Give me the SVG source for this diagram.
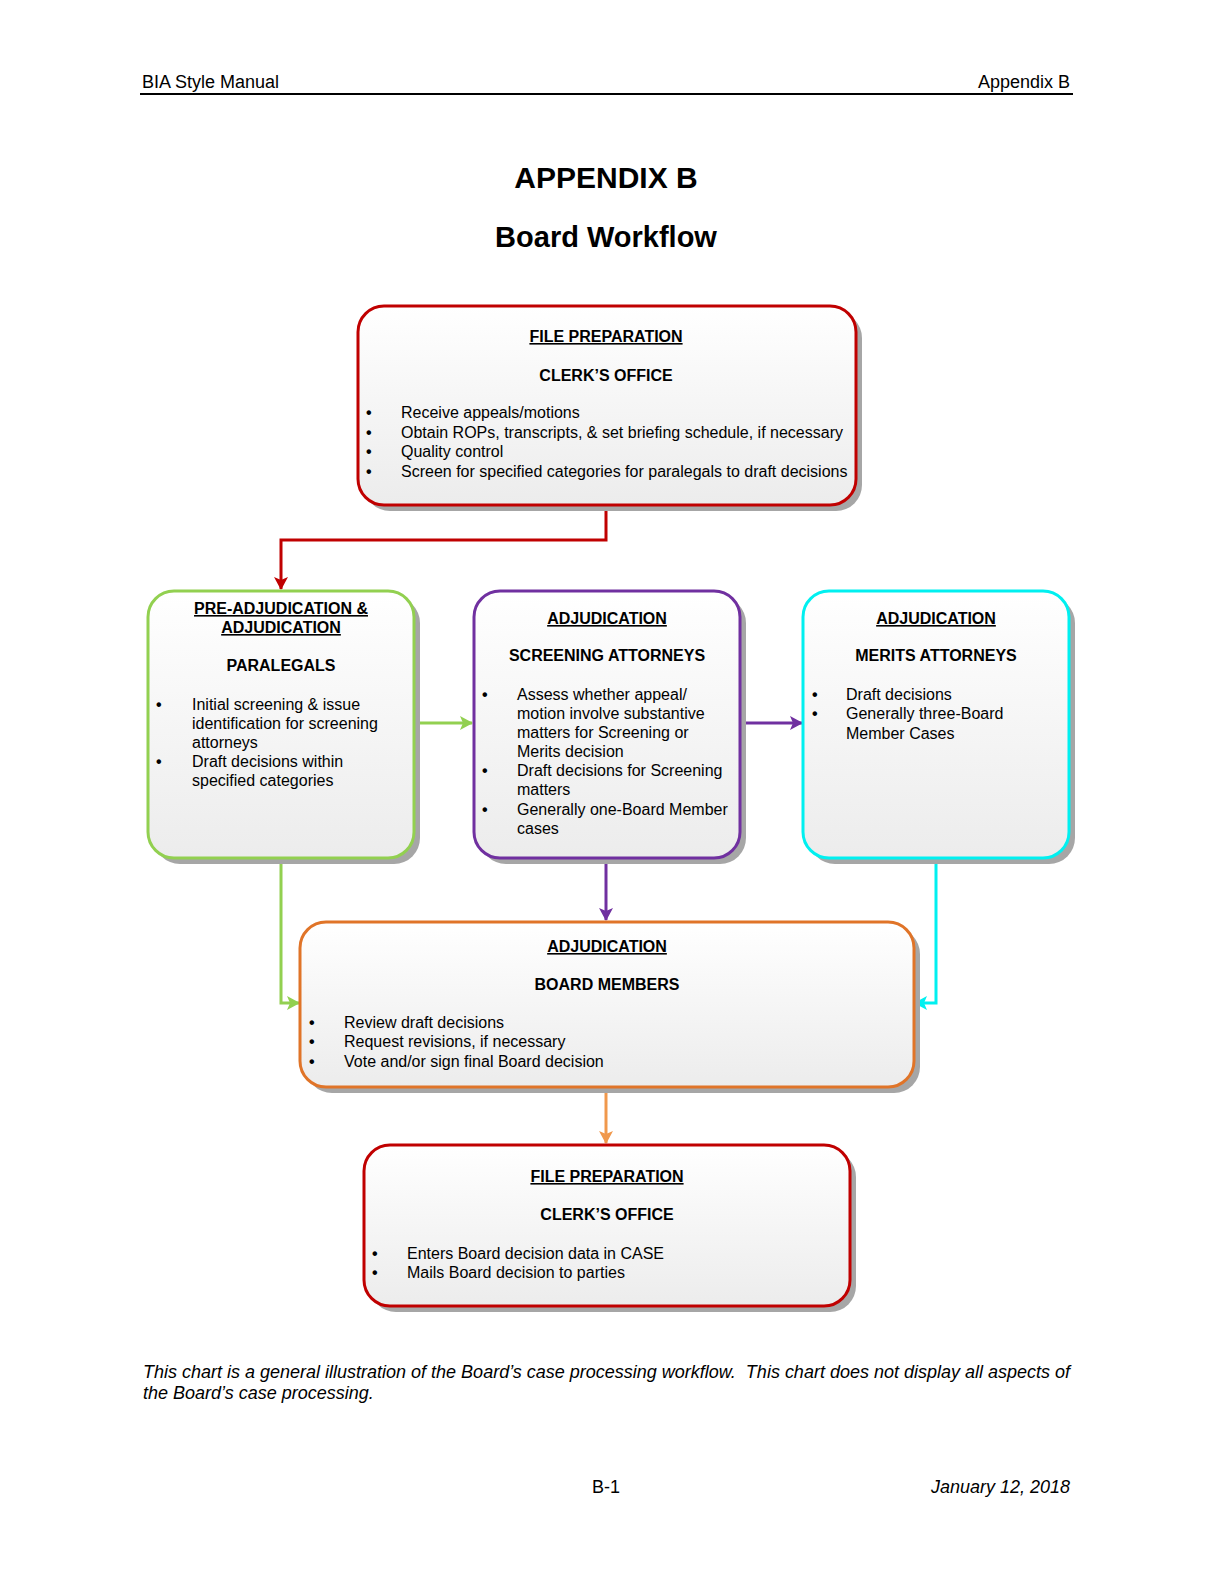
<svg xmlns="http://www.w3.org/2000/svg" width="1224" height="1584" viewBox="0 0 1224 1584">
<style>
text{font-family:"Liberation Sans",Arial,sans-serif;fill:#000}
.hdr{font-size:18px}
.t1{font-size:30px;font-weight:bold}
.t2{font-size:29px;font-weight:bold}
.h{font-size:16px;font-weight:bold;text-decoration:underline}
.s{font-size:16px;font-weight:bold}
.b{font-size:16px}
.d{font-size:16px;font-weight:bold}
.it{font-size:18px;font-style:italic}
.box{fill:url(#g)}
.sh{fill:#a6a6a6}
.con{fill:none;stroke-width:3}
</style>
<defs>
<linearGradient id="g" x1="0" y1="0" x2="0" y2="1">
<stop offset="0" stop-color="#ffffff"/>
<stop offset="1" stop-color="#ececec"/>
</linearGradient>
<marker id="aR" markerUnits="userSpaceOnUse" markerWidth="14" markerHeight="14" refX="12" refY="7" orient="auto"><path d="M0,0 L13,7 L0,14 L3,7 Z" fill="#C00000"/></marker>
<marker id="aG" markerUnits="userSpaceOnUse" markerWidth="14" markerHeight="14" refX="12" refY="7" orient="auto"><path d="M0,0 L13,7 L0,14 L3,7 Z" fill="#92D050"/></marker>
<marker id="aP" markerUnits="userSpaceOnUse" markerWidth="14" markerHeight="14" refX="12" refY="7" orient="auto"><path d="M0,0 L13,7 L0,14 L3,7 Z" fill="#7030A0"/></marker>
<marker id="aC" markerUnits="userSpaceOnUse" markerWidth="14" markerHeight="14" refX="12" refY="7" orient="auto"><path d="M0,0 L13,7 L0,14 L3,7 Z" fill="#00F0F0"/></marker>
<marker id="aO" markerUnits="userSpaceOnUse" markerWidth="14" markerHeight="14" refX="12" refY="7" orient="auto"><path d="M0,0 L13,7 L0,14 L3,7 Z" fill="#F0984C"/></marker>
</defs>
<rect width="1224" height="1584" fill="#fff"/>

<g id="header">
<text class="hdr" x="142" y="88">BIA Style Manual</text>
<text class="hdr" x="1070" y="88" text-anchor="end">Appendix B</text>
<line x1="140" y1="94" x2="1073" y2="94" stroke="#000" stroke-width="2"/>
</g>
<g id="title">
<text class="t1" x="606" y="188" text-anchor="middle">APPENDIX B</text>
<text class="t2" x="606" y="247" text-anchor="middle">Board Workflow</text>
</g>

<g id="connectors">
<path class="con" stroke="#C00000" d="M606,505 V540 H281 V589" marker-end="url(#aR)"/>
<path class="con" stroke="#92D050" d="M414,723 H472" marker-end="url(#aG)"/>
<path class="con" stroke="#7030A0" d="M740,723 H802" marker-end="url(#aP)"/>
<path class="con" stroke="#7030A0" d="M606,858 V920" marker-end="url(#aP)"/>
<path class="con" stroke="#92D050" d="M281,858 V1003 H299" marker-end="url(#aG)"/>
<path class="con" stroke="#00F0F0" d="M936,858 V1003 H915" marker-end="url(#aC)"/>
<path class="con" stroke="#F0984C" d="M606,1087 V1143" marker-end="url(#aO)"/>
</g>

<g id="file-prep-top">
<rect class="sh" x="364" y="312" width="498" height="199" rx="26"/>
<rect class="box" x="358" y="306" width="498" height="199" rx="26" stroke="#C00000" stroke-width="3"/>
<text class="h" x="606" y="342" text-anchor="middle">FILE PREPARATION</text>
<text class="s" x="606" y="381" text-anchor="middle">CLERK’S OFFICE</text>
<text class="d" x="366" y="418">•</text><text class="b" x="401" y="418">Receive appeals/motions</text>
<text class="d" x="366" y="438">•</text><text class="b" x="401" y="438">Obtain ROPs, transcripts, &amp; set briefing schedule, if necessary</text>
<text class="d" x="366" y="457">•</text><text class="b" x="401" y="457">Quality control</text>
<text class="d" x="366" y="477">•</text><text class="b" x="401" y="477">Screen for specified categories for paralegals to draft decisions</text>
</g>

<g id="paralegals">
<rect class="sh" x="154" y="597" width="266" height="267" rx="26"/>
<rect class="box" x="148" y="591" width="266" height="267" rx="26" stroke="#92D050" stroke-width="3"/>
<text class="h" x="281" y="614" text-anchor="middle">PRE-ADJUDICATION &amp;</text>
<text class="h" x="281" y="633" text-anchor="middle">ADJUDICATION</text>
<text class="s" x="281" y="671" text-anchor="middle">PARALEGALS</text>
<text class="d" x="156" y="710">•</text><text class="b" x="192" y="710">Initial screening &amp; issue</text>
<text class="b" x="192" y="729">identification for screening</text>
<text class="b" x="192" y="748">attorneys</text>
<text class="d" x="156" y="767">•</text><text class="b" x="192" y="767">Draft decisions within</text>
<text class="b" x="192" y="786">specified categories</text>
</g>

<g id="screening-attorneys">
<rect class="sh" x="480" y="597" width="266" height="267" rx="26"/>
<rect class="box" x="474" y="591" width="266" height="267" rx="26" stroke="#7030A0" stroke-width="3"/>
<text class="h" x="607" y="624" text-anchor="middle">ADJUDICATION</text>
<text class="s" x="607" y="661" text-anchor="middle">SCREENING ATTORNEYS</text>
<text class="d" x="482" y="700">•</text><text class="b" x="517" y="700">Assess whether appeal/</text>
<text class="b" x="517" y="719">motion involve substantive</text>
<text class="b" x="517" y="738">matters for Screening or</text>
<text class="b" x="517" y="757">Merits decision</text>
<text class="d" x="482" y="776">•</text><text class="b" x="517" y="776">Draft decisions for Screening</text>
<text class="b" x="517" y="795">matters</text>
<text class="d" x="482" y="815">•</text><text class="b" x="517" y="815">Generally one-Board Member</text>
<text class="b" x="517" y="834">cases</text>
</g>

<g id="merits-attorneys">
<rect class="sh" x="809" y="597" width="266" height="267" rx="26"/>
<rect class="box" x="803" y="591" width="266" height="267" rx="26" stroke="#00F0F0" stroke-width="3"/>
<text class="h" x="936" y="624" text-anchor="middle">ADJUDICATION</text>
<text class="s" x="936" y="661" text-anchor="middle">MERITS ATTORNEYS</text>
<text class="d" x="812" y="700">•</text><text class="b" x="846" y="700">Draft decisions</text>
<text class="d" x="812" y="719">•</text><text class="b" x="846" y="719">Generally three-Board</text>
<text class="b" x="846" y="739">Member Cases</text>
</g>

<g id="board-members">
<rect class="sh" x="306" y="928" width="614" height="165" rx="26"/>
<rect class="box" x="300" y="922" width="614" height="165" rx="26" stroke="#E07428" stroke-width="3"/>
<text class="h" x="607" y="952" text-anchor="middle">ADJUDICATION</text>
<text class="s" x="607" y="990" text-anchor="middle">BOARD MEMBERS</text>
<text class="d" x="309" y="1028">•</text><text class="b" x="344" y="1028">Review draft decisions</text>
<text class="d" x="309" y="1047">•</text><text class="b" x="344" y="1047">Request revisions, if necessary</text>
<text class="d" x="309" y="1067">•</text><text class="b" x="344" y="1067">Vote and/or sign final Board decision</text>
</g>

<g id="file-prep-bottom">
<rect class="sh" x="370" y="1151" width="486" height="161" rx="26"/>
<rect class="box" x="364" y="1145" width="486" height="161" rx="26" stroke="#C00000" stroke-width="3"/>
<text class="h" x="607" y="1182" text-anchor="middle">FILE PREPARATION</text>
<text class="s" x="607" y="1220" text-anchor="middle">CLERK’S OFFICE</text>
<text class="d" x="372" y="1259">•</text><text class="b" x="407" y="1259">Enters Board decision data in CASE</text>
<text class="d" x="372" y="1278">•</text><text class="b" x="407" y="1278">Mails Board decision to parties</text>
</g>

<g id="footer">
<text class="it" x="143" y="1378" xml:space="preserve" textLength="927" lengthAdjust="spacingAndGlyphs">This chart is a general illustration of the Board’s case processing workflow.  This chart does not display all aspects of</text>
<text class="it" x="143" y="1399">the Board’s case processing.</text>
<text class="hdr" x="606" y="1493" text-anchor="middle">B-1</text>
<text class="it" x="1070" y="1493" text-anchor="end">January 12, 2018</text>
</g>
</svg>
